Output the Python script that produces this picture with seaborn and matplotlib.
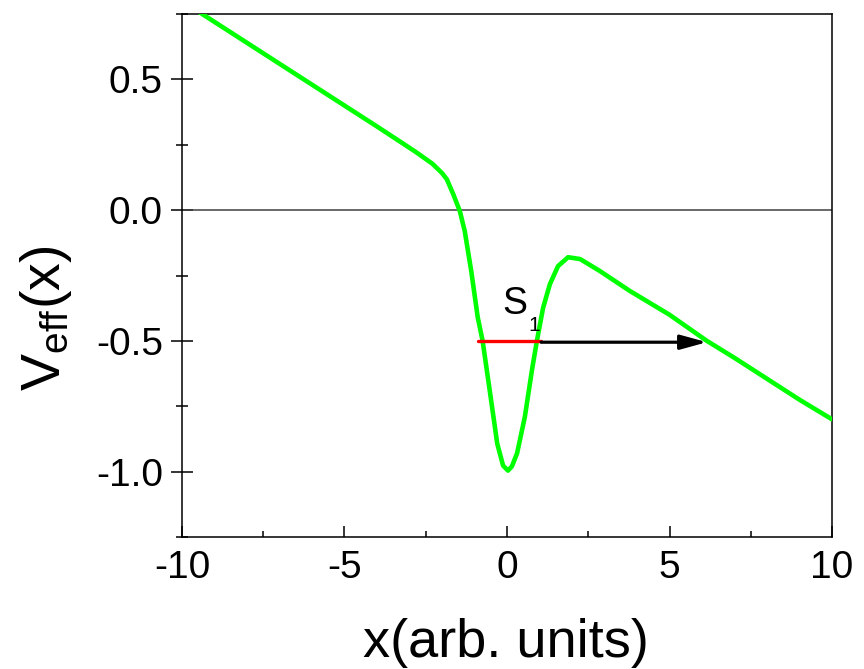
import numpy as np
import pandas as pd
import matplotlib
matplotlib.use('Agg')
import matplotlib.pyplot as plt
import seaborn as sns

# effective potential
x_vals = [-10, -9, -8, -7, -6, -5, -4, -3.3, -2.8, -2.3, -2.0, -1.85, -1.65, -1.45,
          -1.3, -1.1, -0.9, -0.75, -0.5, -0.3, -0.12, 0.03, 0.15, 0.31, 0.55, 0.77,
          0.92, 1.11, 1.32, 1.57, 1.88, 2.25, 2.86, 3.78, 5.0, 6.15, 7, 8, 9, 10]
v_vals = [0.80, 0.72, 0.64, 0.56, 0.48, 0.40, 0.32, 0.263, 0.222, 0.178, 0.142, 0.118, 0.06, -0.004,
          -0.08, -0.233, -0.41, -0.50, -0.717, -0.893, -0.977, -0.996, -0.98, -0.93, -0.79, -0.61,
          -0.50, -0.374, -0.283, -0.214, -0.18, -0.187, -0.233, -0.309, -0.40, -0.50, -0.565, -0.645, -0.725, -0.80]

# S1 level (red) and tunnelling arrow
level = -0.5
level_x = [-0.88, 1.05]
arrow_x = [1.05, 6.15]

x_ticks = [-10, -5, 0, 5, 10]
y_ticks = [-1.0, -0.5, 0.0, 0.5]

df = pd.DataFrame({'x': x_vals, 'V': v_vals})

sns.set_style('ticks')
plt.rcParams['font.family'] = ['Liberation Sans', 'DejaVu Sans']
plt.rcParams['mathtext.fontset'] = 'custom'
plt.rcParams['mathtext.rm'] = 'Liberation Sans'
plt.rcParams['axes.unicode_minus'] = False
plt.rcParams['text.color'] = 'black'
plt.rcParams['xtick.color'] = 'black'
plt.rcParams['ytick.color'] = 'black'
plt.rcParams['axes.labelcolor'] = 'black'

fig = plt.figure(figsize=(8.64, 6.69), dpi=100)
ax = fig.add_axes([0.2106, 0.1973, 0.7524, 0.7817])

ax.axhline(0, color='#404040', lw=1.1, zorder=1)
sns.lineplot(data=df, x='x', y='V', color='#00ff00', linewidth=3.3, ax=ax, zorder=3)
sns.lineplot(x=level_x, y=[level, level], color='#ff0000', linewidth=2.4, ax=ax, zorder=4)
ax.annotate('', xy=(arrow_x[1], level - 0.005), xytext=(arrow_x[0], level - 0.005),
            arrowprops=dict(arrowstyle='-|>,head_length=0.8,head_width=0.22', color='black',
                            lw=2.3, shrinkA=0, shrinkB=0, mutation_scale=20), zorder=4)

ax.text(-0.15, -0.397, 'S', fontsize=27, ha='left', va='baseline')
ax.text(0.65, -0.462, '1', fontsize=15, ha='left', va='baseline')

ax.set_xlim(-10, 10)
ax.set_ylim(-1.25, 0.75)
ax.set_xticks(x_ticks)
ax.set_xticklabels([str(t) for t in x_ticks])
ax.set_yticks(y_ticks)
ax.set_yticklabels([f'{t:.1f}' for t in y_ticks])
ax.set_xticks(np.arange(-10, 10.1, 2.5), minor=True)
ax.set_yticks(np.arange(-1.25, 0.76, 0.25), minor=True)

ax.tick_params(axis='y', which='major', direction='inout', length=15.8, width=1.1, labelsize=28, pad=5.8)
ax.tick_params(axis='y', which='minor', direction='inout', length=8.6, width=1.1)
ax.tick_params(axis='x', which='major', direction='in', length=8, width=1.1, labelsize=28, pad=9)
ax.tick_params(axis='x', which='minor', direction='in', length=4.3, width=1.1)

for s in ax.spines.values():
    s.set_visible(True)
    s.set_linewidth(1.1)
    s.set_color('black')

ax.set_xlabel('')
ax.set_ylabel('')
fig.text(506 / 864, 1 - 657 / 669, 'x(arb. units)', fontsize=39, ha='center', va='baseline')
fig.text(46 / 864, 1 - 318 / 669, r'$\mathregular{V_{eff}(x)}$', fontsize=40, rotation=90,
         ha='center', va='center')

fig.savefig('out.png', dpi=100)
